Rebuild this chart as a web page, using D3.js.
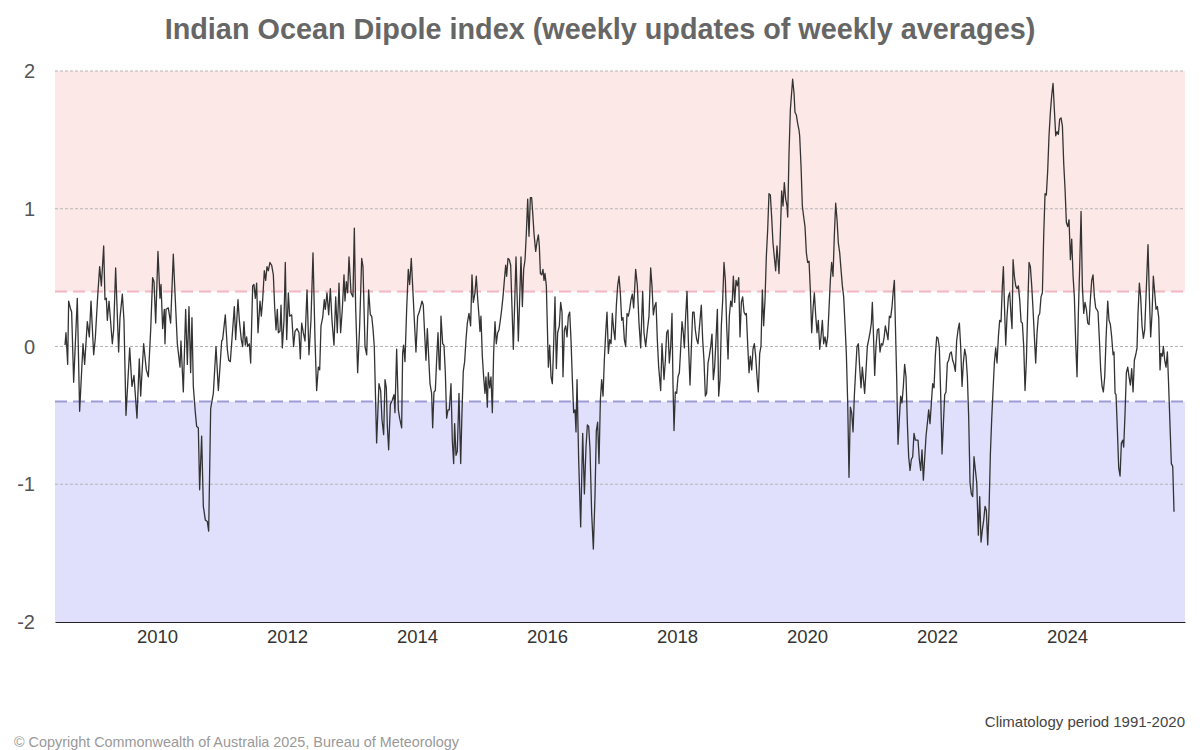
<!DOCTYPE html>
<html>
<head>
<meta charset="utf-8">
<script src="https://cdn.jsdelivr.net/npm/d3@7"></script>
<style>
  html, body { margin: 0; padding: 0; background: #fff; }
  svg { display: block; font-family: "Liberation Sans", Arial, sans-serif; }
</style>
</head>
<body>
<svg id="chart" width="1200" height="750"></svg>
<script>
// ---- data ----
const titleText = "Indian Ocean Dipole index (weekly updates of weekly averages)";
const yTicks = [2, 1, 0, -1, -2];
const xTickYears = [2010, 2012, 2014, 2016, 2018, 2020, 2022, 2024];
const positiveThreshold = 0.4;
const negativeThreshold = -0.4;

// decimal-year of each weekly value
const times = [
2008.585,2008.600,2008.626,2008.641,2008.672,2008.687,2008.718,2008.774,2008.810,2008.862,2008.887,2008.928,2008.959,2008.985,
2009.026,2009.051,2009.087,2009.118,2009.144,2009.180,2009.200,2009.221,2009.236,2009.262,2009.277,2009.313,2009.333,2009.364,
2009.410,2009.431,2009.467,2009.492,2009.523,2009.580,2009.615,2009.646,2009.692,2009.728,2009.749,2009.795,2009.836,2009.867,
2009.903,2009.933,2009.954,2009.980,2010.015,2010.046,2010.062,2010.087,2010.113,2010.123,2010.139,2010.174,2010.210,2010.251,
2010.272,2010.313,2010.354,2010.369,2010.405,2010.441,2010.467,2010.492,2010.518,2010.538,2010.559,2010.590,2010.610,2010.636,
2010.656,2010.687,2010.713,2010.744,2010.774,2010.795,2010.826,2010.867,2010.908,2010.944,2010.969,2010.995,2011.010,2011.051,
2011.082,2011.103,2011.128,2011.164,2011.190,2011.210,2011.246,2011.267,2011.297,2011.318,2011.338,2011.359,2011.379,2011.395,
2011.421,2011.441,2011.472,2011.492,2011.513,2011.533,2011.554,2011.585,2011.605,2011.626,2011.651,2011.672,2011.692,2011.713,
2011.738,2011.764,2011.790,2011.810,2011.831,2011.851,2011.867,2011.892,2011.908,2011.928,2011.954,2011.974,2011.995,2012.021,
2012.041,2012.072,2012.102,2012.123,2012.154,2012.185,2012.205,2012.226,2012.251,2012.277,2012.308,2012.338,2012.369,2012.400,
2012.431,2012.456,2012.482,2012.503,2012.523,2012.549,2012.574,2012.590,2012.615,2012.641,2012.667,2012.692,2012.723,2012.749,
2012.774,2012.800,2012.825,2012.851,2012.877,2012.892,2012.913,2012.933,2012.954,2012.985,2013.015,2013.036,2013.056,2013.087,
2013.118,2013.149,2013.169,2013.200,2013.226,2013.256,2013.282,2013.303,2013.323,2013.343,2013.379,2013.415,2013.441,2013.461,
2013.487,2013.508,2013.528,2013.544,2013.564,2013.590,2013.620,2013.646,2013.661,2013.687,2013.713,2013.733,2013.764,
2013.779,2013.794,2013.815,2013.841,2013.866,2013.887,2013.912,2013.933,2013.954,2013.984,2014.010,2014.035,2014.056,2014.077,
2014.097,2014.117,2014.138,2014.159,2014.179,2014.200,2014.225,2014.241,2014.261,2014.282,2014.302,2014.323,2014.343,2014.354,
2014.369,2014.395,2014.415,2014.436,2014.456,2014.477,2014.497,2014.523,2014.543,2014.564,2014.579,2014.600,2014.620,2014.646,
2014.672,2014.692,2014.712,2014.733,2014.754,2014.774,2014.800,2014.825,2014.846,2014.866,2014.892,2014.912,2014.933,2014.954,
2014.969,2014.984,2015.005,2015.025,2015.046,2015.061,2015.082,2015.097,2015.118,2015.138,2015.159,2015.179,2015.200,2015.220,
2015.241,2015.261,2015.282,2015.303,2015.323,2015.344,2015.364,2015.379,2015.400,2015.420,2015.441,2015.461,2015.482,2015.508,
2015.523,2015.543,
2015.559,2015.600,2015.621,2015.641,2015.662,2015.682,2015.703,2015.723,2015.744,2015.764,2015.780,2015.800,2015.826,2015.846,
2015.867,2015.882,2015.898,2015.918,2015.938,2015.954,2015.969,2015.990,2016.005,2016.021,2016.041,2016.062,2016.082,2016.103,
2016.123,2016.144,2016.164,2016.190,2016.210,2016.231,2016.246,2016.267,2016.287,2016.308,2016.328,2016.349,2016.369,2016.390,
2016.410,2016.431,2016.446,2016.462,2016.487,2016.518,2016.549,2016.575,2016.600,2016.621,2016.641,2016.662,2016.687,2016.713,
2016.738,2016.759,2016.779,2016.800,2016.821,2016.841,2016.862,2016.882,2016.903,2016.923,2016.944,2016.964,2016.985,2017.005,
2017.026,2017.046,2017.067,2017.087,2017.108,2017.128,2017.149,2017.169,2017.190,2017.210,2017.231,2017.251,2017.272,2017.292,
2017.313,2017.333,
2017.364,2017.390,2017.415,2017.441,2017.472,2017.492,2017.518,2017.544,2017.569,2017.595,2017.615,2017.636,2017.656,2017.677,
2017.697,2017.718,2017.749,2017.769,2017.800,2017.821,2017.841,2017.862,2017.882,2017.903,2017.923,2017.938,2017.954,2017.974,
2017.995,2018.015,2018.036,2018.056,2018.077,2018.097,2018.113,2018.133,2018.154,2018.174,2018.200,2018.220,2018.241,2018.262,
2018.282,2018.303,2018.323,2018.354,2018.374,2018.395,2018.415,2018.436,2018.456,2018.477,2018.497,2018.518,2018.538,2018.559,
2018.579,2018.600,2018.621,2018.641,2018.662,2018.682,2018.703,2018.723,2018.744,2018.764,2018.785,2018.805,2018.826,2018.846,
2018.867,2018.887,2018.908,2018.928,2018.949,2018.969,2018.990,2019.010,2019.031,2019.051,
2019.067,2019.087,2019.108,2019.128,2019.149,2019.169,2019.190,2019.210,2019.231,2019.251,2019.272,2019.292,2019.313,2019.333,
2019.354,2019.374,2019.395,2019.415,2019.436,2019.456,2019.477,2019.497,2019.518,2019.538,2019.569,2019.590,2019.610,2019.631,
2019.651,2019.672,2019.692,2019.703,2019.723,2019.744,2019.779,2019.800,2019.815,2019.836,2019.856,2019.877,2019.887,2019.908,
2019.928,2019.949,2019.969,2019.990,2020.010,2020.031,2020.051,2020.072,2020.092,2020.113,2020.133,2020.154,2020.174,2020.195,
2020.215,2020.236,2020.256,2020.277,2020.297,2020.318,2020.338,2020.359,2020.379,2020.400,2020.420,2020.441,2020.462,2020.482,
2020.503,2020.523,2020.544,2020.564,2020.585,2020.605,2020.626,2020.646,2020.667,2020.687,2020.708,2020.728,2020.749,2020.769,
2020.790,2020.810,
2020.831,2020.851,2020.887,2020.908,2020.928,2020.949,2020.969,2020.990,2021.005,2021.020,2021.041,2021.061,2021.082,2021.103,
2021.123,2021.144,2021.164,2021.185,2021.205,2021.226,2021.246,2021.267,2021.287,2021.308,2021.328,2021.344,2021.359,2021.379,
2021.400,2021.420,2021.441,2021.461,2021.482,2021.502,2021.523,2021.544,2021.564,2021.585,2021.605,2021.626,2021.646,2021.667,
2021.708,2021.728,2021.749,2021.769,2021.790,2021.831,2021.851,2021.872,2021.892,2021.913,2021.933,2021.954,2021.974,2021.995,
2022.015,2022.036,2022.056,2022.077,2022.118,2022.138,2022.159,2022.179,2022.200,2022.220,2022.241,2022.261,2022.282,2022.302,
2022.323,2022.344,2022.364,2022.385,2022.405,2022.426,2022.446,2022.467,2022.487,2022.508,2022.528,2022.549,2022.569,
2022.611,2022.636,2022.657,2022.677,2022.698,2022.718,2022.739,2022.759,2022.780,2022.800,2022.821,2022.841,2022.862,2022.882,
2022.903,2022.923,2022.944,2022.964,2022.985,2023.005,2023.021,2023.036,2023.057,2023.077,2023.098,2023.118,2023.139,2023.154,
2023.170,2023.190,2023.211,2023.231,2023.252,2023.272,2023.293,2023.313,2023.334,2023.354,2023.375,2023.395,2023.416,2023.436,
2023.457,2023.477,2023.498,2023.518,2023.539,2023.559,2023.580,2023.600,2023.621,2023.641,2023.662,2023.682,2023.703,2023.723,
2023.744,2023.764,2023.785,2023.805,2023.826,2023.846,2023.867,2023.887,2023.908,2023.929,2023.949,2023.970,2023.990,2024.011,
2024.031,2024.052,2024.072,2024.093,2024.113,2024.134,2024.154,2024.175,2024.195,2024.216,2024.236,2024.257,2024.277,2024.298,
2024.318,2024.339,2024.359,
2024.380,2024.400,2024.421,2024.441,2024.457,2024.477,2024.498,2024.518,2024.539,2024.559,2024.580,2024.600,2024.626,2024.646,
2024.667,2024.687,2024.708,2024.723,2024.739,2024.754,2024.775,2024.795,2024.816,2024.836,2024.857,2024.872,2024.893,2024.913,
2024.934,2024.954,2024.975,2024.995,2025.016,2025.036,2025.057,2025.077,2025.092,2025.113,2025.133,2025.154,2025.175,2025.195,
2025.215,2025.246,2025.267,2025.287,2025.308,2025.328,2025.349,2025.369,2025.390,2025.411,2025.431,2025.446,2025.467,2025.482,
2025.503,2025.523,2025.544,2025.564,2025.585,2025.605,2025.626,2025.646
];

// IOD index values (°C)
const values = [
0.01,0.10,-0.13,0.33,0.27,0.25,-0.26,0.35,-0.47,0.02,-0.13,0.18,0.07,0.33,
-0.06,0.06,0.36,0.58,0.44,0.73,0.34,0.35,0.19,0.33,0.24,0.02,0.12,0.57,
-0.04,0.21,0.38,0.19,-0.50,-0.01,-0.29,-0.21,-0.52,-0.09,-0.36,0.02,-0.17,-0.22,
0.12,0.50,0.47,0.17,0.69,0.35,0.45,0.13,0.27,0.02,0.27,0.28,0.17,0.67,
0.44,0.02,-0.15,0.04,-0.33,0.27,-0.13,0.29,-0.19,0.21,-0.29,-0.48,-0.58,-0.59,
-1.04,-0.65,-1.16,-1.26,-1.27,-1.34,-0.45,-0.34,0.00,-0.32,-0.15,0.04,0.05,0.23,
-0.02,-0.10,-0.11,0.12,0.29,0.05,0.34,0.19,0.05,0.00,0.18,0.01,0.07,0.00,
0.02,-0.12,0.44,0.45,0.35,0.46,0.10,0.33,0.22,0.34,0.55,0.48,0.58,0.55,
0.61,0.59,0.52,0.29,0.12,0.27,0.10,0.11,0.30,-0.01,0.19,0.61,0.05,0.39,
0.22,0.23,0.00,0.11,0.13,0.10,-0.09,0.17,0.10,0.04,0.41,-0.06,0.19,0.68,
0.05,-0.32,-0.15,-0.17,0.15,0.21,0.34,0.27,0.39,0.23,0.42,0.19,0.01,0.36,
0.10,0.46,0.10,0.27,0.52,0.33,0.47,0.39,0.65,0.39,0.36,0.86,0.29,-0.19,
0.15,0.64,0.58,0.00,-0.06,0.41,0.23,0.22,0.13,0.00,-0.70,-0.27,-0.32,-0.53,
-0.64,-0.24,-0.30,-0.58,-0.75,-0.42,-0.39,-0.35,-0.48,-0.02,-0.46,-0.52,-0.59,
-0.05,0.01,-0.11,0.27,0.56,0.45,0.64,0.44,0.24,-0.04,0.22,0.25,0.29,0.33,
0.30,0.10,-0.10,0.13,-0.07,-0.27,-0.34,-0.59,-0.33,-0.32,-0.10,0.10,-0.16,-0.17,
0.22,0.02,0.01,-0.19,-0.52,-0.46,-0.46,-0.27,-0.68,-0.85,-0.56,-0.79,-0.76,-0.34,
-0.85,-0.48,-0.18,-0.11,0.05,0.17,0.24,0.15,0.52,0.32,0.39,0.51,0.35,0.22,
0.11,0.22,-0.07,-0.22,-0.34,-0.22,-0.44,-0.19,-0.30,-0.22,-0.48,-0.05,0.18,0.02,
0.10,0.12,0.19,0.27,0.36,0.48,0.59,0.51,0.64,0.63,0.59,0.29,-0.02,0.40,
0.65,0.32,
0.04,0.65,0.29,0.56,0.63,0.82,1.07,0.80,1.08,1.08,0.97,0.82,0.69,0.76,
0.81,0.73,0.53,0.52,0.56,0.48,0.53,0.44,0.15,-0.15,0.01,-0.22,-0.27,0.02,
0.36,-0.16,0.10,0.15,0.32,0.25,-0.22,0.12,0.15,0.07,0.22,0.25,0.05,-0.24,
-0.48,-0.46,-0.62,-0.24,-0.82,-1.31,-0.63,-1.07,-0.73,-0.57,-0.58,-0.75,-1.21,-1.47,
-1.09,-0.61,-0.55,-0.85,-0.39,-0.24,-0.36,-0.10,0.10,0.25,-0.05,0.05,0.02,0.24,
0.12,0.05,0.30,0.44,0.51,0.39,0.19,0.21,0.05,0.00,0.24,0.22,0.27,0.34,
0.38,0.28,
0.56,0.44,0.17,-0.01,0.40,0.10,0.00,0.12,0.22,0.57,0.44,0.23,0.29,0.32,
0.05,-0.15,-0.32,0.02,-0.24,-0.10,0.10,0.12,-0.12,0.00,0.24,-0.27,-0.61,-0.33,
-0.34,-0.22,-0.19,-0.02,0.18,0.10,-0.01,0.22,0.40,0.05,-0.28,-0.02,0.25,0.25,
0.12,0.05,0.02,0.19,0.30,0.05,-0.10,-0.36,-0.34,-0.12,-0.07,0.00,0.09,-0.24,
-0.15,0.05,0.27,-0.36,-0.24,0.15,0.34,0.61,0.48,0.15,-0.09,0.22,0.33,0.29,
0.51,0.32,0.48,0.44,0.50,0.07,0.32,0.36,0.25,0.23,
0.24,0.02,-0.19,-0.07,-0.17,-0.02,0.02,-0.07,-0.22,-0.33,-0.05,0.00,0.41,0.15,
0.34,0.65,0.85,1.11,1.10,0.94,0.75,0.65,0.55,0.73,0.53,0.82,1.13,1.02,
1.19,1.07,1.02,0.94,1.40,1.72,1.94,1.84,1.70,1.68,1.62,1.57,1.53,1.31,
1.02,0.94,0.87,0.68,0.61,0.62,0.41,0.10,0.27,0.39,0.23,0.10,0.19,-0.02,
0.07,0.19,0.02,0.07,0.00,0.07,0.27,0.48,0.61,0.51,0.80,1.04,0.92,0.75,
0.68,0.56,0.44,0.36,0.16,-0.05,-0.41,-0.95,-0.44,-0.48,-0.62,-0.36,-0.17,0.00,
0.02,-0.15,
-0.30,-0.15,-0.34,-0.17,0.00,0.05,0.10,0.17,0.32,0.12,-0.21,0.00,0.12,0.13,
-0.04,0.02,0.01,0.06,0.15,0.10,0.05,0.22,0.21,0.29,0.41,0.48,0.17,-0.22,
-0.71,-0.53,-0.36,-0.41,-0.29,-0.13,-0.22,-0.56,-0.80,-0.90,-0.82,-0.80,-0.63,-0.68,
-0.68,-0.82,-0.90,-0.75,-0.97,-0.65,-0.56,-0.46,-0.56,-0.41,-0.27,-0.30,-0.07,0.07,
0.06,-0.01,-0.34,-0.78,-0.35,-0.33,-0.12,-0.10,-0.05,-0.04,-0.10,-0.13,-0.18,0.04,
0.12,0.17,0.00,-0.29,-0.12,-0.02,-0.07,-0.22,-0.51,-0.99,-1.07,-1.09,-0.80,
-0.99,-1.37,-1.09,-1.42,-1.33,-1.26,-1.16,-1.19,-1.44,-1.19,-0.78,-0.53,-0.32,-0.12,
-0.01,-0.12,0.07,0.19,0.18,0.44,0.58,0.32,0.01,0.22,0.36,0.39,0.22,0.13,
0.63,0.51,0.44,0.42,0.44,0.34,0.18,0.17,0.00,-0.32,-0.10,0.27,0.61,0.58,
0.44,0.27,0.07,-0.12,0.10,0.22,0.24,0.36,0.39,0.80,1.11,1.10,1.28,1.53,
1.70,1.82,1.91,1.72,1.53,1.56,1.54,1.65,1.66,1.60,1.33,1.14,0.90,0.87,
0.92,0.63,0.78,0.51,0.36,0.02,-0.22,0.25,0.58,0.98,0.44,0.24,0.32,0.27,
0.17,0.16,0.34,
0.48,0.52,0.36,0.28,0.27,0.25,0.05,-0.17,-0.29,-0.33,-0.22,0.05,0.33,0.19,
0.16,0.07,-0.06,-0.04,-0.34,-0.35,-0.61,-0.88,-0.94,-0.70,-0.68,-0.73,-0.48,-0.19,
-0.15,-0.22,-0.28,-0.16,-0.33,-0.10,-0.06,-0.01,0.24,0.46,0.36,0.15,0.06,0.12,
0.36,0.74,0.36,0.07,0.24,0.51,0.39,0.27,0.29,0.21,-0.17,-0.05,-0.07,0.00,
-0.10,-0.15,-0.04,-0.29,-0.58,-0.85,-0.87,-1.20
];

// ---- layout ----
const svg = d3.select("#chart");
const plot = { left: 55, right: 1185, top: 71, bottom: 622 };

const x = d3.scaleLinear().domain([2008.431, 2025.815]).range([plot.left, plot.right]);
const y = d3.scaleLinear().domain([-2, 2]).range([plot.bottom, plot.top]);

// background bands
svg.append("rect")
  .attr("x", plot.left).attr("width", plot.right - plot.left)
  .attr("y", y(2)).attr("height", y(positiveThreshold) - y(2))
  .attr("fill", "#fde8e8");
svg.append("rect")
  .attr("x", plot.left).attr("width", plot.right - plot.left)
  .attr("y", y(negativeThreshold)).attr("height", y(-2) - y(negativeThreshold))
  .attr("fill", "#e0e0fc");

// gridlines
svg.append("g").selectAll("line")
  .data(yTicks.filter(d => d > -2))
  .join("line")
  .attr("x1", plot.left).attr("x2", plot.right)
  .attr("y1", d => y(d)).attr("y2", d => y(d))
  .attr("stroke", "#b4b4b4").attr("stroke-width", 1)
  .attr("stroke-dasharray", "3,2");

// threshold lines
svg.append("line")
  .attr("x1", plot.left).attr("x2", plot.right)
  .attr("y1", y(positiveThreshold)).attr("y2", y(positiveThreshold))
  .attr("stroke", "#f4b6c2").attr("stroke-width", 2).attr("stroke-dasharray", "12,6");
svg.append("line")
  .attr("x1", plot.left).attr("x2", plot.right)
  .attr("y1", y(negativeThreshold)).attr("y2", y(negativeThreshold))
  .attr("stroke", "#9c9cd6").attr("stroke-width", 2).attr("stroke-dasharray", "12,6");

// y labels
svg.append("g").selectAll("text")
  .data(yTicks)
  .join("text")
  .attr("x", 35).attr("y", d => y(d))
  .attr("dy", "0.35em")
  .attr("text-anchor", "end")
  .attr("font-size", 20)
  .attr("fill", "#555")
  .text(d => d);

// x axis
const xAxis = d3.axisBottom(x)
  .tickValues(xTickYears)
  .tickFormat(d3.format("d"))
  .tickSize(0)
  .tickPadding(8);
const gx = svg.append("g")
  .attr("transform", `translate(0,${plot.bottom})`)
  .call(xAxis);
gx.select(".domain").attr("stroke", "#222").attr("stroke-width", 1.2);
gx.selectAll("text")
  .attr("font-size", 18.5)
  .attr("fill", "#333")
  .attr("font-family", "Liberation Sans, Arial, sans-serif");

// line
const pts = times.map((t, i) => [t, values[i]]);
const line = d3.line().x(d => x(d[0])).y(d => y(d[1]));
svg.append("path")
  .datum(pts)
  .attr("d", line)
  .attr("fill", "none")
  .attr("stroke", "#333")
  .attr("stroke-width", 1.3)
  .attr("stroke-linejoin", "round");

// title
svg.append("text")
  .attr("x", 600).attr("y", 39)
  .attr("text-anchor", "middle")
  .attr("font-size", 28.8)
  .attr("font-weight", "bold")
  .attr("fill", "#666")
  .text(titleText);

// footer
svg.append("text")
  .attr("x", 1185).attr("y", 727)
  .attr("text-anchor", "end")
  .attr("font-size", 15)
  .attr("fill", "#444")
  .text("Climatology period 1991-2020");
svg.append("text")
  .attr("x", 14).attr("y", 747)
  .attr("font-size", 14.4)
  .attr("fill", "#999")
  .text("© Copyright Commonwealth of Australia 2025, Bureau of Meteorology");
</script>
</body>
</html>
